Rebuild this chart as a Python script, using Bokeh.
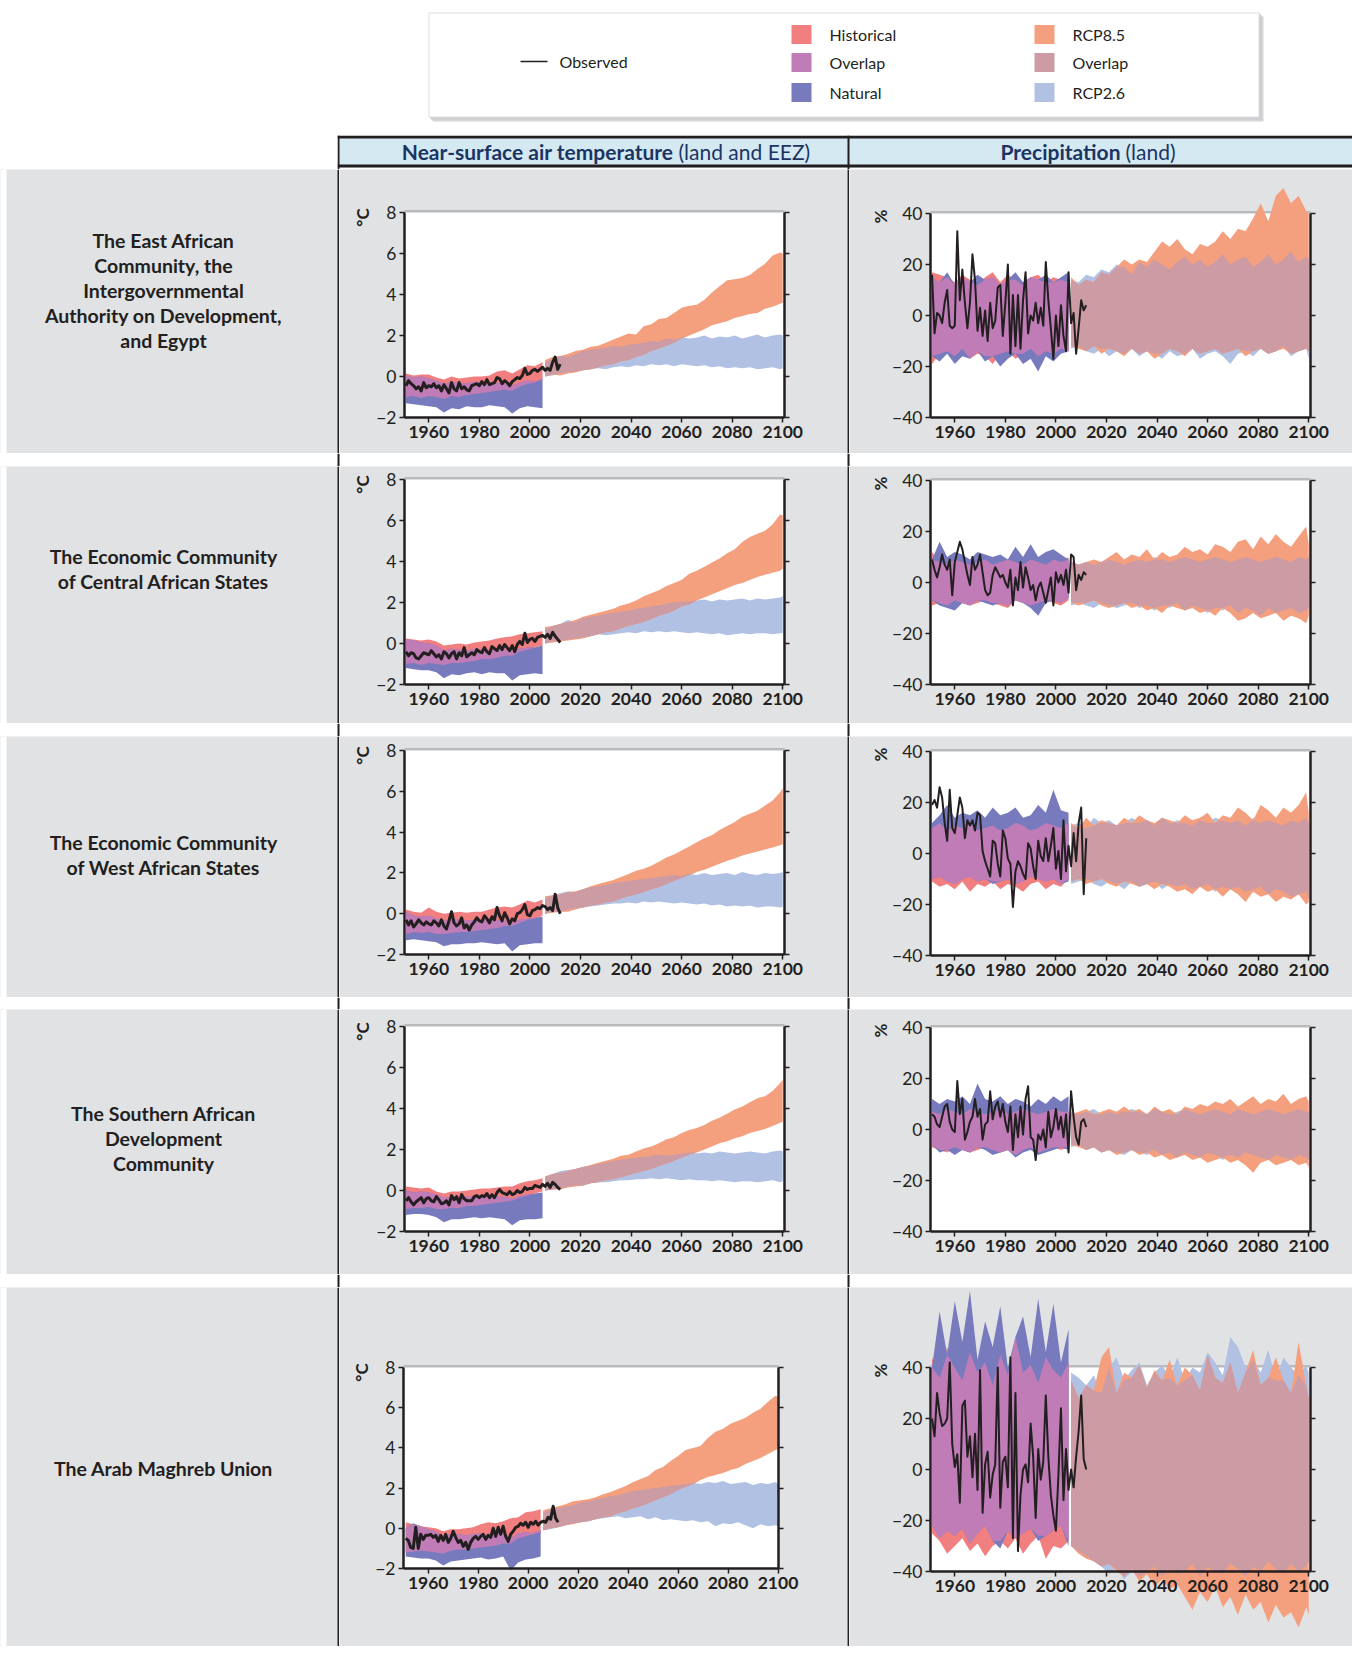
import numpy as np
from bokeh.plotting import figure
from bokeh.layouts import column, row
from bokeh.models import Range1d, LinearAxis, FixedTicker, Label, BoxAnnotation, Spacer
from bokeh.embed import file_html
from bokeh.resources import INLINE

# ---------------------------------------------------------------- data
OBS_YEARS = list(range(1951, 2013))
HIST_YEARS = [1951, 1954, 1957, 1960, 1963, 1966, 1969, 1972, 1975, 1978, 1981, 1984, 1987,
              1990, 1993, 1996, 1999, 2002, 2005]
RCP_YEARS = [2006, 2009, 2012, 2015, 2018, 2021, 2024, 2027, 2030, 2033, 2036, 2039, 2042,
             2045, 2048, 2051, 2054, 2057, 2060, 2063, 2066, 2069, 2072, 2075, 2078, 2081,
             2084, 2087, 2090, 2093, 2096, 2099, 2100]
X_TICKS = [1960, 1980, 2000, 2020, 2040, 2060, 2080, 2100]
T_TICKS = [-2, 0, 2, 4, 6, 8]
P_TICKS = [-40, -20, 0, 20, 40]

REGION_LABELS = [
    ["The East African", "Community, the", "Intergovernmental", "Authority on Development,", "and Egypt"],
    ["The Economic Community", "of Central African States"],
    ["The Economic Community", "of West African States"],
    ["The Southern African", "Development", "Community"],
    ["The Arab Maghreb Union"],
]
LEGEND_LEFT = ["Historical", "Overlap", "Natural"]
LEGEND_RIGHT = ["RCP8.5", "Overlap", "RCP2.6"]

# --- Row 1: East Africa, temperature (deg C)
T1_HIST_HI = [0.15, 0.05, 0.1, 0.1, -0.05, -0.15, 0.0, -0.1, -0.05, 0.0, 0.0, 0.05, 0.25, 0.3, 0.15, 0.35, 0.55, 0.5, 0.7]
T1_HIST_LO = [-1.0, -0.95, -1.05, -0.95, -1.0, -1.1, -0.95, -1.0, -0.9, -0.85, -0.8, -0.75, -0.7, -0.65, -0.7, -0.5, -0.35, -0.3, -0.15]
T1_NAT_HI = [0.05, -0.05, 0.0, -0.1, -0.2, -0.35, -0.25, -0.3, -0.35, -0.25, -0.3, -0.4, -0.3, -0.35, -0.45, -0.3, -0.2, -0.25, -0.1]
T1_NAT_LO = [-1.3, -1.35, -1.4, -1.45, -1.5, -1.75, -1.55, -1.6, -1.45, -1.5, -1.5, -1.4, -1.45, -1.5, -1.8, -1.55, -1.45, -1.5, -1.55]
T1_R85_HI = [0.8, 0.95, 1.0, 1.1, 1.25, 1.3, 1.45, 1.5, 1.65, 1.8, 1.95, 2.1, 2.05, 2.45, 2.55, 2.8, 2.85,
             3.1, 3.35, 3.45, 3.5, 3.75, 4.1, 4.4, 4.7, 4.75, 4.8, 4.95, 5.25, 5.5, 5.9, 6.05, 6.0]
T1_R85_LO = [0.0, 0.1, 0.05, 0.15, 0.2, 0.3, 0.35, 0.45, 0.55, 0.6, 0.75, 0.8, 0.95, 1.05, 1.25, 1.35, 1.5,
             1.65, 1.85, 2.0, 2.15, 2.3, 2.5, 2.6, 2.7, 2.85, 2.95, 3.05, 3.1, 3.3, 3.4, 3.55, 3.6]
T1_R26_HI = [0.7, 0.85, 1.0, 0.95, 1.1, 1.25, 1.3, 1.35, 1.4, 1.5, 1.45, 1.55, 1.6, 1.65, 1.75, 1.7, 1.85,
             1.8, 1.9, 1.85, 1.9, 2.0, 1.85, 1.95, 1.9, 2.0, 1.85, 1.95, 2.05, 1.9, 2.0, 2.05, 2.0]
T1_R26_LO = [0.0, 0.05, 0.15, 0.2, 0.25, 0.3, 0.35, 0.4, 0.35, 0.45, 0.5, 0.45, 0.55, 0.5, 0.6, 0.55, 0.6,
             0.5, 0.6, 0.55, 0.5, 0.55, 0.45, 0.5, 0.4, 0.45, 0.4, 0.45, 0.35, 0.4, 0.45, 0.35, 0.4]
T1_OBS = [-0.45, -0.2, -0.35, -0.45, -0.6, -0.5, -0.7, -0.3, -0.55, -0.45,
          -0.5, -0.35, -0.55, -0.45, -0.7, -0.4, -0.6, -0.8, -0.3, -0.6,
          -0.7, -0.3, -0.6, -0.5, -0.65, -0.7, -0.45, -0.4, -0.35, -0.45,
          -0.25, -0.4, -0.15, -0.4, -0.35, -0.3, -0.05, -0.1, -0.35, -0.2,
          -0.3, -0.45, -0.25, -0.15, -0.05, -0.1, 0.05, 0.4, 0.1, 0.15,
          0.3, 0.35, 0.25, 0.35, 0.45, 0.3, 0.4, 0.3, 0.7, 0.95,
          0.35, 0.6]

# --- Row 2: Central Africa, temperature
T2_HIST_HI = [0.25, 0.2, 0.15, 0.2, 0.1, -0.1, -0.05, 0.0, -0.05, 0.05, 0.1, 0.15, 0.25, 0.3, 0.35, 0.45, 0.5, 0.55, 0.6]
T2_HIST_LO = [-1.0, -0.95, -1.05, -0.95, -1.0, -1.05, -0.95, -0.95, -0.9, -0.85, -0.75, -0.75, -0.7, -0.6, -0.6, -0.4, -0.3, -0.2, -0.1]
T2_NAT_HI = [0.2, 0.15, 0.05, 0.0, -0.1, -0.35, -0.25, -0.3, -0.35, -0.25, -0.3, -0.35, -0.25, -0.3, -0.4, -0.25, -0.2, -0.2, -0.1]
T2_NAT_LO = [-1.2, -1.25, -1.3, -1.3, -1.4, -1.7, -1.5, -1.55, -1.45, -1.4, -1.5, -1.4, -1.45, -1.45, -1.8, -1.55, -1.5, -1.45, -1.5]
T2_R85_HI = [0.8, 0.85, 0.95, 1.05, 1.15, 1.3, 1.4, 1.5, 1.6, 1.7, 1.85, 1.95, 2.1, 2.3, 2.45, 2.6, 2.8,
             2.95, 3.1, 3.4, 3.55, 3.75, 3.95, 4.15, 4.4, 4.6, 4.95, 5.2, 5.35, 5.5, 5.8, 6.3, 6.25]
T2_R85_LO = [0.0, 0.05, 0.1, 0.15, 0.2, 0.25, 0.35, 0.45, 0.55, 0.6, 0.75, 0.85, 0.95, 1.05, 1.2, 1.35, 1.45,
             1.6, 1.8, 1.9, 2.1, 2.25, 2.4, 2.55, 2.7, 2.85, 2.95, 3.1, 3.25, 3.35, 3.45, 3.55, 3.65]
T2_R26_HI = [0.7, 0.85, 0.95, 1.15, 1.05, 1.25, 1.3, 1.35, 1.45, 1.5, 1.55, 1.6, 1.7, 1.75, 1.8, 1.85, 1.95,
             2.0, 2.05, 2.05, 2.1, 2.15, 2.05, 2.15, 2.1, 2.15, 2.2, 2.1, 2.2, 2.15, 2.2, 2.25, 2.3]
T2_R26_LO = [0.0, 0.1, 0.15, 0.2, 0.25, 0.3, 0.35, 0.45, 0.4, 0.45, 0.5, 0.55, 0.5, 0.6, 0.55, 0.6, 0.55,
             0.6, 0.55, 0.5, 0.55, 0.5, 0.45, 0.5, 0.4, 0.45, 0.5, 0.45, 0.5, 0.5, 0.45, 0.5, 0.5]
T2_OBS = [-0.4, -0.6, -0.45, -0.5, -0.7, -0.75, -0.6, -0.45, -0.5, -0.55,
          -0.35, -0.5, -0.65, -0.55, -0.75, -0.4, -0.5, -0.7, -0.5, -0.4,
          -0.75, -0.45, -0.6, -0.2, -0.65, -0.55, -0.45, -0.55, -0.3, -0.4,
          -0.45, -0.2, -0.4, -0.5, -0.15, -0.25, -0.35, -0.1, -0.3, -0.05,
          -0.2, -0.35, -0.1, -0.4, -0.05, 0.1, -0.05, 0.5, 0.05, 0.2,
          0.25, 0.1, 0.3, 0.35, 0.4, 0.3, 0.45, 0.25, 0.55, 0.35,
          0.2, 0.05]

# --- Row 3: West Africa, temperature
T3_HIST_HI = [0.2, 0.1, 0.05, 0.3, 0.1, 0.0, 0.05, 0.1, 0.05, 0.1, 0.1, 0.2, 0.3, 0.35, 0.3, 0.45, 0.65, 0.55, 0.7]
T3_HIST_LO = [-1.0, -0.9, -0.95, -0.9, -1.0, -1.0, -0.95, -0.9, -0.9, -0.85, -0.8, -0.75, -0.7, -0.6, -0.6, -0.45, -0.3, -0.25, -0.1]
T3_NAT_HI = [0.1, -0.1, -0.15, -0.1, -0.25, -0.35, -0.3, -0.3, -0.35, -0.3, -0.3, -0.35, -0.3, -0.35, -0.45, -0.3, -0.25, -0.2, -0.15]
T3_NAT_LO = [-1.3, -1.25, -1.3, -1.35, -1.4, -1.6, -1.5, -1.5, -1.45, -1.45, -1.4, -1.45, -1.5, -1.45, -1.85, -1.55, -1.5, -1.45, -1.45]
T3_R85_HI = [0.85, 0.9, 0.95, 1.05, 1.1, 1.2, 1.35, 1.45, 1.55, 1.65, 1.8, 1.95, 2.1, 2.2, 2.35, 2.55, 2.75,
             2.9, 3.1, 3.3, 3.5, 3.7, 3.85, 4.1, 4.3, 4.5, 4.75, 4.9, 5.05, 5.3, 5.55, 5.95, 6.15]
T3_R85_LO = [0.0, 0.05, 0.1, 0.1, 0.2, 0.3, 0.4, 0.45, 0.55, 0.6, 0.75, 0.85, 0.95, 1.05, 1.2, 1.3, 1.45,
             1.6, 1.75, 1.9, 2.05, 2.15, 2.3, 2.45, 2.6, 2.7, 2.85, 2.95, 3.05, 3.15, 3.25, 3.35, 3.4]
T3_R26_HI = [0.75, 0.9, 1.0, 1.1, 1.05, 1.2, 1.3, 1.35, 1.4, 1.5, 1.55, 1.6, 1.65, 1.7, 1.75, 1.8, 1.85,
             1.9, 1.85, 1.95, 1.9, 2.0, 1.9, 1.95, 2.0, 1.9, 2.05, 1.95, 1.9, 2.0, 1.95, 2.0, 2.05]
T3_R26_LO = [0.0, 0.1, 0.1, 0.2, 0.25, 0.3, 0.35, 0.4, 0.45, 0.5, 0.5, 0.55, 0.5, 0.6, 0.55, 0.6, 0.55,
             0.5, 0.55, 0.5, 0.45, 0.5, 0.4, 0.45, 0.35, 0.4, 0.35, 0.4, 0.3, 0.35, 0.35, 0.3, 0.35]
T3_OBS = [-0.3, -0.55, -0.35, -0.65, -0.5, -0.3, -0.45, -0.55, -0.4, -0.5,
          -0.55, -0.35, -0.45, -0.6, -0.3, -0.6, -0.75, -0.35, 0.1, -0.45,
          -0.6, -0.5, -0.2, -0.7, -0.55, -0.8, -0.55, -0.4, -0.2, -0.35,
          -0.4, -0.1, -0.25, -0.45, -0.15, -0.3, 0.3, -0.1, -0.35, 0.05,
          -0.2, -0.5, -0.25, -0.35, 0.0, 0.05, 0.2, 0.45, -0.05, -0.1,
          0.15, 0.2, 0.3, 0.25, 0.4, 0.35, 0.2, 0.3, 0.15, 0.95,
          0.3, 0.0]

# --- Row 4: Southern Africa, temperature
T4_HIST_HI = [0.2, 0.15, 0.1, 0.15, -0.05, -0.15, -0.05, -0.05, 0.0, 0.05, 0.1, 0.1, 0.15, 0.2, 0.2, 0.35, 0.45, 0.5, 0.6]
T4_HIST_LO = [-0.9, -0.85, -0.85, -0.8, -0.9, -0.9, -0.85, -0.85, -0.75, -0.75, -0.7, -0.65, -0.6, -0.55, -0.5, -0.35, -0.25, -0.15, -0.05]
T4_NAT_HI = [0.0, -0.1, -0.05, -0.1, -0.2, -0.35, -0.3, -0.3, -0.3, -0.3, -0.25, -0.35, -0.3, -0.3, -0.4, -0.25, -0.2, -0.15, -0.1]
T4_NAT_LO = [-1.2, -1.15, -1.15, -1.2, -1.3, -1.55, -1.4, -1.4, -1.35, -1.3, -1.35, -1.3, -1.35, -1.4, -1.7, -1.45, -1.4, -1.4, -1.35]
T4_R85_HI = [0.7, 0.8, 0.85, 0.95, 1.05, 1.15, 1.25, 1.35, 1.45, 1.55, 1.7, 1.75, 1.9, 2.05, 2.15, 2.3, 2.5,
             2.6, 2.8, 2.95, 3.05, 3.2, 3.4, 3.55, 3.75, 3.95, 4.1, 4.3, 4.5, 4.6, 4.85, 5.25, 5.4]
T4_R85_LO = [0.0, 0.05, 0.05, 0.15, 0.2, 0.25, 0.35, 0.4, 0.5, 0.55, 0.65, 0.75, 0.85, 0.95, 1.05, 1.2, 1.3,
             1.45, 1.6, 1.75, 1.85, 2.0, 2.15, 2.3, 2.4, 2.55, 2.65, 2.8, 2.9, 3.0, 3.15, 3.3, 3.35]
T4_R26_HI = [0.65, 0.8, 0.95, 1.0, 1.05, 1.15, 1.2, 1.3, 1.35, 1.45, 1.5, 1.55, 1.6, 1.65, 1.7, 1.75, 1.7,
             1.75, 1.8, 1.85, 1.8, 1.85, 1.8, 1.9, 1.85, 1.8, 1.85, 1.9, 1.85, 1.8, 1.9, 1.95, 1.9]
T4_R26_LO = [0.0, 0.05, 0.1, 0.2, 0.25, 0.25, 0.35, 0.4, 0.4, 0.45, 0.5, 0.5, 0.55, 0.55, 0.6, 0.55, 0.6,
             0.55, 0.5, 0.55, 0.5, 0.5, 0.45, 0.5, 0.45, 0.4, 0.45, 0.45, 0.4, 0.45, 0.5, 0.4, 0.45]
T4_OBS = [-0.5, -0.35, -0.55, -0.7, -0.55, -0.45, -0.35, -0.6, -0.4, -0.35,
          -0.5, -0.55, -0.3, -0.45, -0.65, -0.6, -0.5, -0.7, -0.25, -0.45,
          -0.3, -0.6, -0.2, -0.4, -0.5, -0.5, -0.5, -0.3, -0.25, -0.35,
          -0.25, -0.3, -0.15, -0.35, -0.2, -0.35, -0.1, 0.05, -0.1, -0.15,
          -0.2, -0.05, -0.2, -0.15, 0.0, -0.1, -0.05, 0.15, 0.05, 0.1,
          0.1, 0.25, 0.2, 0.15, 0.3, 0.2, 0.35, 0.15, 0.4, 0.3,
          0.15, 0.05]

# --- Row 5: Arab Maghreb Union, temperature
T5_HIST_HI = [0.3, 0.2, 0.1, 0.05, 0.0, -0.15, -0.05, -0.05, 0.0, 0.05, 0.2, 0.3, 0.25, 0.35, 0.5, 0.55, 0.8, 0.85, 0.95]
T5_HIST_LO = [-1.2, -1.15, -1.1, -1.15, -1.2, -1.25, -1.1, -1.05, -1.05, -1.0, -0.95, -0.9, -0.85, -0.75, -0.75, -0.5, -0.4, -0.3, -0.2]
T5_NAT_HI = [0.0, 0.25, 0.1, -0.05, -0.15, -0.4, -0.3, -0.3, -0.35, -0.3, -0.25, -0.35, -0.3, -0.2, -0.5, -0.25, -0.2, -0.25, -0.1]
T5_NAT_LO = [-1.4, -1.45, -1.5, -1.5, -1.6, -1.85, -1.65, -1.6, -1.55, -1.5, -1.45, -1.55, -1.5, -1.4, -2.1, -1.7, -1.55, -1.5, -1.4]
T5_R85_HI = [0.9, 1.0, 1.1, 1.2, 1.35, 1.4, 1.45, 1.55, 1.7, 1.8, 1.95, 2.1, 2.3, 2.45, 2.6, 2.9, 3.05,
             3.35, 3.6, 3.9, 4.0, 4.1, 4.5, 4.8, 4.95, 5.2, 5.35, 5.5, 5.75, 5.95, 6.3, 6.6, 6.55]
T5_R85_LO = [-0.1, 0.0, 0.05, 0.15, 0.2, 0.3, 0.35, 0.45, 0.55, 0.6, 0.75, 0.85, 1.0, 1.1, 1.25, 1.4, 1.55,
             1.7, 1.9, 2.05, 2.2, 2.4, 2.55, 2.65, 2.75, 2.9, 3.0, 3.2, 3.35, 3.5, 3.7, 3.9, 3.95]
T5_R26_HI = [0.8, 0.95, 1.0, 1.1, 1.15, 1.3, 1.35, 1.45, 1.5, 1.6, 1.65, 1.75, 1.85, 1.9, 1.95, 2.0, 2.05,
             2.1, 2.15, 2.2, 2.25, 2.2, 2.3, 2.25, 2.35, 2.2, 2.25, 2.3, 2.15, 2.25, 2.2, 2.3, 2.2]
T5_R26_LO = [-0.1, -0.05, 0.05, 0.15, 0.25, 0.3, 0.35, 0.45, 0.5, 0.55, 0.6, 0.5, 0.55, 0.6, 0.45, 0.55, 0.4,
             0.45, 0.4, 0.35, 0.4, 0.3, 0.35, 0.1, 0.25, 0.2, 0.3, 0.15, 0.0, 0.2, 0.1, 0.15, 0.1]
T5_OBS = [-0.5, -0.6, -0.95, -1.0, 0.05, -1.0, -0.3, -0.55, -0.35, -0.35,
          -0.3, -0.45, -0.35, -0.65, -0.35, -0.6, -0.3, -0.7, -0.5, -0.15,
          -0.45, -0.7, -0.6, -0.9, -0.7, -1.05, -0.7, -0.5, -0.4, -0.55,
          -0.4, -0.3, -0.55, -0.35, -0.45, 0.0, -0.4, 0.05, -0.3, 0.1,
          -0.4, -0.65, -0.3, -0.15, 0.05, 0.1, 0.25, 0.15, 0.3, 0.05,
          0.3, 0.2, 0.35, 0.15, 0.3, 0.35, 0.3, 0.55, 0.45, 1.1,
          0.5, 0.3]

# --- Row 1: East Africa, precipitation (%)
P1_HIST_HI = [17, 16, 15, 13, 16, 14, 12, 15, 17, 13, 16, 14, 12, 15, 16, 13, 15, 14, 13]
P1_HIST_LO = [-19, -15, -14, -16, -13, -17, -15, -16, -19, -15, -14, -17, -15, -13, -16, -14, -15, -13, -14]
P1_NAT_HI = [15, 13, 17, 12, 15, 13, 16, 14, 15, 12, 14, 17, 13, 15, 14, 16, 13, 15, 17]
P1_NAT_LO = [-16, -18, -15, -19, -16, -17, -14, -18, -16, -20, -17, -15, -19, -17, -22, -16, -18, -15, -14]
P1_R85_HI = [15, 12, 14, 13, 17, 16, 19, 22, 20, 22, 21, 25, 29, 27, 30, 26, 24, 28, 27, 29,
             33, 30, 34, 33, 38, 44, 37, 47, 50, 44, 47, 41, 40]
P1_R85_LO = [-12, -13, -14, -12, -15, -13, -14, -16, -13, -15, -14, -17, -15, -13, -14, -16, -13,
             -15, -14, -13, -15, -14, -13, -16, -14, -13, -15, -14, -13, -15, -14, -13, -14]
P1_R26_HI = [14, 13, 16, 15, 18, 17, 20, 19, 16, 21, 19, 22, 20, 18, 21, 23, 20, 22, 19, 21,
             24, 20, 22, 23, 19, 21, 24, 20, 22, 25, 21, 23, 22]
P1_R26_LO = [-13, -12, -14, -15, -13, -16, -14, -15, -13, -16, -14, -15, -17, -14, -16, -15, -13,
             -17, -15, -14, -16, -19, -15, -14, -16, -13, -15, -14, -12, -16, -14, -13, -17]
P1_OBS = [16, -7, 1, 0, -3, 5, 10, -4, -5, -4,
          33, 6, 18, 5, -5, 5, 24, 14, -6, 3,
          -8, 2, -10, 5, -5, -2, 11, 12, -8, 5,
          20, -15, 8, -12, 8, -13, 6, 17, -7, 0,
          -2, 5, -3, 3, -4, 21, 6, -5, -17, 0,
          -12, 4, -8, -14, 17, -3, 1, -15, -5, 6,
          2, 4]

# --- Row 2: Central Africa, precipitation
P2_HIST_HI = [12, 8, 7, 9, 8, 7, 8, 9, 7, 8, 9, 8, 7, 9, 8, 7, 9, 8, 10]
P2_HIST_LO = [-9, -8, -9, -7, -8, -9, -8, -7, -8, -9, -10, -7, -8, -9, -8, -7, -8, -9, -7]
P2_NAT_HI = [9, 16, 10, 12, 11, 9, 12, 11, 10, 11, 9, 14, 10, 15, 10, 12, 13, 11, 9]
P2_NAT_LO = [-7, -9, -10, -11, -8, -9, -7, -8, -9, -8, -9, -7, -8, -10, -13, -8, -7, -8, -6]
P2_R85_HI = [8, 7, 8, 9, 8, 10, 12, 9, 11, 10, 13, 9, 12, 10, 11, 14, 12, 13, 11, 15,
             14, 12, 16, 17, 13, 18, 15, 19, 16, 14, 18, 22, 15]
P2_R85_LO = [-8, -9, -8, -7, -9, -10, -9, -8, -10, -9, -11, -10, -12, -9, -10, -11, -10, -12,
             -11, -13, -10, -12, -15, -14, -12, -14, -13, -12, -15, -13, -14, -16, -13]
P2_R26_HI = [8, 7, 8, 7, 8, 9, 8, 7, 8, 9, 8, 10, 9, 8, 9, 10, 9, 8, 9, 10,
             9, 8, 9, 10, 9, 8, 9, 10, 9, 8, 10, 9, 10]
P2_R26_LO = [-9, -8, -9, -10, -8, -9, -10, -9, -8, -10, -9, -11, -9, -10, -8, -11, -9, -10,
             -12, -10, -11, -9, -12, -10, -11, -13, -10, -12, -11, -10, -12, -11, -10]
P2_OBS = [9, 5, 2, 6, 11, 7, 5, 9, -5, 8,
          12, 16, 13, 8, 3, -1, 10, 5, 7, 11,
          4, -3, -5, -4, 3, 6, 4, 2, 3, 0,
          -2, 5, -9, 2, -3, 8, -2, 6, 2, -3,
          -1, -7, -2, 0, -4, -8, -3, 2, -9, 4,
          0, 3, -1, 5, -4, 11, 10, -3, 3, 1,
          4, 3]

# --- Row 3: West Africa, precipitation
P3_HIST_HI = [10, 12, 9, 11, 10, 12, 9, 10, 11, 9, 10, 12, 11, 9, 10, 12, 11, 10, 12]
P3_HIST_LO = [-11, -13, -12, -14, -11, -15, -12, -13, -11, -14, -12, -13, -15, -12, -11, -14, -12, -13, -10]
P3_NAT_HI = [12, 15, 19, 14, 16, 15, 17, 14, 18, 15, 16, 18, 14, 15, 19, 16, 25, 17, 16]
P3_NAT_LO = [-10, -9, -11, -12, -10, -9, -11, -10, -12, -11, -10, -12, -11, -9, -10, -11, -10, -12, -11]
P3_R85_HI = [12, 10, 14, 11, 13, 12, 11, 14, 12, 15, 13, 12, 14, 13, 12, 15, 13, 14, 16, 12,
             15, 14, 18, 16, 13, 19, 17, 14, 18, 16, 19, 24, 16]
P3_R85_LO = [-11, -10, -12, -11, -10, -12, -13, -11, -12, -13, -12, -14, -12, -13, -15, -14, -16,
             -13, -15, -14, -17, -14, -16, -19, -15, -17, -16, -19, -17, -18, -16, -20, -19]
P3_R26_HI = [11, 12, 10, 14, 12, 13, 11, 12, 14, 12, 13, 11, 14, 12, 13, 12, 11, 13, 12, 14,
             13, 12, 13, 11, 14, 12, 13, 12, 11, 13, 12, 14, 12]
P3_R26_LO = [-12, -11, -10, -12, -13, -11, -12, -14, -11, -13, -12, -11, -14, -12, -13, -12, -14,
             -13, -12, -15, -13, -14, -13, -15, -14, -13, -16, -14, -15, -17, -16, -15, -18]
P3_OBS = [19, 21, 18, 26, 22, 12, 5, 25, 10, 8,
          15, 22, 18, 6, 13, 11, 13, 9, 16, 15,
          1, -3, -6, -9, 5, 4, -4, -9, 9, 6,
          -2, -4, -21, -7, -3, -5, -8, -10, 4, 2,
          -5, -10, 5, -1, -3, 6, -3, 3, 10, -6,
          1, -10, 13, -7, 3, -5, 8, -3, 12, 18,
          -16, 6]

# --- Row 4: Southern Africa, precipitation
P4_HIST_HI = [7, 6, 8, 7, 6, 8, 7, 6, 7, 8, 6, 7, 8, 7, 6, 7, 8, 7, 7]
P4_HIST_LO = [-7, -8, -9, -7, -8, -9, -8, -7, -8, -9, -8, -10, -8, -7, -9, -8, -7, -8, -7]
P4_NAT_HI = [12, 10, 12, 11, 13, 10, 18, 12, 11, 13, 10, 12, 11, 9, 12, 10, 13, 11, 13]
P4_NAT_LO = [-6, -9, -8, -10, -8, -9, -7, -8, -10, -9, -8, -11, -9, -8, -10, -9, -8, -7, -8]
P4_R85_HI = [6, 7, 8, 6, 7, 8, 7, 9, 7, 8, 6, 9, 7, 8, 6, 9, 8, 10, 9, 11,
             10, 12, 9, 11, 13, 10, 12, 11, 14, 10, 12, 13, 11]
P4_R85_LO = [-6, -7, -8, -7, -9, -8, -10, -9, -8, -10, -9, -11, -10, -12, -11, -10, -12, -11,
             -13, -12, -11, -13, -12, -14, -17, -13, -12, -14, -13, -12, -14, -13, -15]
P4_R26_HI = [7, 6, 7, 8, 6, 7, 6, 7, 8, 7, 6, 8, 7, 6, 7, 8, 7, 6, 7, 8,
             7, 6, 8, 7, 6, 7, 8, 7, 6, 7, 8, 7, 7]
P4_R26_LO = [-7, -6, -8, -7, -9, -8, -9, -10, -8, -9, -10, -8, -10, -9, -11, -9, -10, -11, -9,
             -10, -12, -10, -11, -9, -10, -11, -12, -10, -11, -12, -10, -11, -12]
P4_OBS = [6, 5, 2, 1, 5, 9, 10, 3, 0, -1,
          19, 6, 12, -4, -1, 3, 5, 12, 5, 8,
          -4, 2, 3, 15, 4, 9, 11, 5, 10, 3,
          -1, 9, -8, 6, -3, 9, -2, 12, 17, -3,
          -4, -12, -2, -4, 0, -7, 7, -3, 1, 8,
          0, 5, -3, 6, -9, 15, 5, -3, -6, 3,
          4, 1]

# --- Row 5: Arab Maghreb Union, precipitation
P5_HIST_HI = [44, 36, 48, 40, 35, 46, 38, 42, 33, 45, 37, 52, 38, 41, 34, 44, 39, 36, 42]
P5_HIST_LO = [-25, -28, -33, -30, -27, -32, -29, -34, -30, -28, -31, -27, -33, -29, -26, -35, -30, -31, -28]
P5_NAT_HI = [40, 62, 45, 66, 50, 70, 43, 58, 48, 64, 40, 52, 60, 44, 67, 46, 65, 42, 55]
P5_NAT_LO = [-22, -27, -24, -26, -23, -29, -25, -22, -28, -31, -24, -27, -25, -23, -28, -26, -24, -22, -30]
P5_R85_HI = [35, 28, 33, 31, 44, 48, 30, 38, 36, 41, 32, 39, 35, 43, 33, 40, 37, 31, 45, 36,
             34, 42, 30, 38, 47, 33, 36, 44, 35, 30, 50, 33, 28]
P5_R85_LO = [-30, -33, -35, -36, -38, -37, -40, -42, -39, -44, -41, -46, -43, -47, -45, -50, -55,
             -48, -52, -46, -54, -50, -57, -49, -55, -52, -60, -53, -58, -56, -62, -54, -57]
P5_R26_HI = [38, 36, 33, 37, 30, 40, 44, 35, 39, 42, 33, 38, 41, 36, 44, 35, 40, 38, 46, 42,
             37, 52, 48, 40, 43, 38, 47, 35, 44, 40, 37, 41, 38]
P5_R26_LO = [-30, -32, -34, -36, -38, -41, -39, -43, -40, -42, -40, -38, -42, -39, -41, -40, -37,
             -42, -38, -40, -41, -37, -39, -42, -38, -40, -36, -39, -41, -37, -40, -38, -36]
P5_OBS = [20, 13, 30, 22, 17, 18, 20, 42, 10, 1,
          6, -13, 25, 27, 5, 13, -3, 14, -8, 39,
          -17, 2, 7, -11, -2, 2, 40, -15, 3, 5,
          -7, 44, -27, 30, -32, -10, 0, 2, -5, 18,
          5, -19, 8, -4, 3, 29, 5, -10, -18, -24,
          -2, 24, -12, 8, -8, 0, -7, 5, 15, 29,
          4, 0]

# ---------------------------------------------------------------- style
FONT = "Lato"
INK = "#231f20"
GREY = "#e1e2e4"
NAVY = "#1b3563"
HEAD_BG = "#d5e9f3"
C_HIST = "#f27f80"
C_OVH = "#bf7cb7"
C_NAT = "#777abd"
C_R85 = "#f4a07f"
C_OVR = "#cc9ba3"
C_R26 = "#b1c1e3"
TICK_PX = "17.5px"

TOTAL_W = 1352
LABEL_W, TEMP_W, VL_W, PREC_W = 339, 508, 2, 503


def plain_fig(w, h, bg):
    f = figure(width=w, height=h, x_range=Range1d(0, w), y_range=Range1d(0, h),
               toolbar_location=None, output_backend="svg", min_border=0,
               x_axis_location=None, y_axis_location=None,
               background_fill_color=bg, border_fill_color=bg, outline_line_color=None)
    f.grid.visible = False
    return f


def box(f, h, l, r, t, b, color, level="underlay"):
    # t/b measured from top of the figure (pixels)
    f.add_layout(BoxAnnotation(left=l, right=r, top=h - t, bottom=h - b, fill_color=color,
                               fill_alpha=1.0, line_color=None, level=level))


def label(f, h, x, y, s, size, style="normal", align="left", color=INK):
    f.add_layout(Label(x=x, y=h - y, text=s, text_font=FONT, text_font_size=f"{size}px",
                       text_font_style=style, text_align=align, text_baseline="middle",
                       text_color=color))


def overlap(a_hi, a_lo, b_hi, b_lo):
    lo = np.maximum(np.asarray(a_lo, float), np.asarray(b_lo, float))
    hi = np.minimum(np.asarray(a_hi, float), np.asarray(b_hi, float))
    return lo, np.maximum(hi, lo)


def style_axis(ax, bold):
    ax.axis_line_color = INK
    ax.axis_line_width = 2.5
    ax.major_tick_line_color = INK
    ax.major_tick_line_width = 1.5
    ax.major_tick_out = 5
    ax.major_tick_in = 0
    ax.minor_tick_line_color = None
    ax.major_label_text_font = FONT
    ax.major_label_text_font_size = TICK_PX
    ax.major_label_text_color = INK
    ax.major_label_text_font_style = "bold" if bold else "normal"
    ax.major_label_standoff = 3


def panel(w, h, ml, mr, bt, bb, xr, yr, yticks, unit, udx, udy,
          h_hi, h_lo, n_hi, n_lo, r85_hi, r85_lo, r26_hi, r26_lo, obs, obs_w):
    # the frame covers the whole figure; axes are placed at fixed data locations
    sy = (yr[1] - yr[0]) / (bb - bt)
    y0 = yr[0] - (h - bb) * sy
    y1 = yr[1] + bt * sy
    sx = (xr[1] - xr[0]) / (w - ml - mr)
    x0 = xr[0] - ml * sx
    x1 = xr[1] + mr * sx
    p = figure(width=w, height=h, x_range=Range1d(x0, x1), y_range=Range1d(y0, y1),
               min_border=0, toolbar_location=None, output_backend="svg",
               x_axis_location=None, y_axis_location=None,
               background_fill_color=GREY, border_fill_color=GREY, outline_line_color=None)
    p.grid.visible = False
    # plot area (white box with a light shadow on top)
    p.add_layout(BoxAnnotation(left=xr[0], right=xr[1], bottom=yr[0], top=yr[1] + 2.5 * sy,
                               fill_color="#b9babc", fill_alpha=1, line_color=None, level="underlay"))
    p.add_layout(BoxAnnotation(left=xr[0], right=xr[1], bottom=yr[0], top=yr[1],
                               fill_color="white", fill_alpha=1, line_color=None, level="underlay"))
    # historical / natural
    p.varea(x=HIST_YEARS, y1=h_lo, y2=h_hi, fill_color=C_HIST, fill_alpha=1)
    p.varea(x=HIST_YEARS, y1=n_lo, y2=n_hi, fill_color=C_NAT, fill_alpha=1)
    lo, hi = overlap(h_hi, h_lo, n_hi, n_lo)
    p.varea(x=HIST_YEARS, y1=lo, y2=hi, fill_color=C_OVH, fill_alpha=1)
    # RCP scenarios
    p.varea(x=RCP_YEARS, y1=r26_lo, y2=r26_hi, fill_color=C_R26, fill_alpha=1)
    p.varea(x=RCP_YEARS, y1=r85_lo, y2=r85_hi, fill_color=C_R85, fill_alpha=1)
    lo, hi = overlap(r85_hi, r85_lo, r26_hi, r26_lo)
    p.varea(x=RCP_YEARS, y1=lo, y2=hi, fill_color=C_OVR, fill_alpha=1)
    # observations
    p.line(x=OBS_YEARS, y=obs, line_color=INK, line_width=obs_w, line_join="round")
    # axes
    xa = LinearAxis(ticker=FixedTicker(ticks=X_TICKS), fixed_location=yr[0], bounds=xr)
    style_axis(xa, True)
    p.add_layout(xa, "below")
    neg = {t: "\u2212" + str(abs(t)) for t in yticks if t < 0}
    ya = LinearAxis(ticker=FixedTicker(ticks=yticks), fixed_location=xr[0], bounds=yr,
                    major_label_overrides=neg)
    style_axis(ya, False)
    p.add_layout(ya, "left")
    yb = LinearAxis(ticker=FixedTicker(ticks=yticks), fixed_location=xr[1], bounds=yr)
    style_axis(yb, False)
    yb.major_label_text_font_size = "1px"
    yb.major_label_text_color = None
    p.add_layout(yb, "right")
    p.add_layout(Label(x=xr[0], y=yr[1], x_offset=-udx, y_offset=-udy, text=unit,
                       angle=np.pi / 2, text_align="center", text_baseline="middle",
                       text_font=FONT, text_font_style="bold", text_font_size="17px",
                       text_color=INK))
    return p


# ---------------------------------------------------------------- top legend
TOP_H = 135
top = plain_fig(TOTAL_W, TOP_H, "white")
box(top, TOP_H, 432, 1263, 16, 121, "#d6d7d9")
box(top, TOP_H, 430, 1261, 14, 119, "#cbcccf")
box(top, TOP_H, 428, 1259, 12, 117, "#dcdddf")
box(top, TOP_H, 429, 1258, 13, 116, "white")
box(top, TOP_H, 520, 547, 60.3, 61.7, INK, level="annotation")
label(top, TOP_H, 559, 61, "Observed", 16)
LEG_Y = [34, 62, 92]
for i, (txt, col) in enumerate(zip(LEGEND_LEFT, [C_HIST, C_OVH, C_NAT])):
    cy = LEG_Y[i]
    box(top, TOP_H, 791, 811, cy - 9.5, cy + 9.5, col, level="annotation")
    label(top, TOP_H, 829, cy, txt, 16)
for i, (txt, col) in enumerate(zip(LEGEND_RIGHT, [C_R85, C_OVR, C_R26])):
    cy = LEG_Y[i]
    box(top, TOP_H, 1034, 1054, cy - 9.5, cy + 9.5, col, level="annotation")
    label(top, TOP_H, 1072, cy, txt, 16)

# ---------------------------------------------------------------- header
HDR_X = 337
HDR_W, HDR_H = TOTAL_W - HDR_X, 34
hdr = plain_fig(HDR_W, HDR_H, "white")
box(hdr, HDR_H, 0, HDR_W, 0, 32, HEAD_BG)
box(hdr, HDR_H, 0, HDR_W, 0, 3, INK)
box(hdr, HDR_H, 0, HDR_W, 29, 32, INK)
box(hdr, HDR_H, 0, 2, 0, HDR_H, INK)
box(hdr, HDR_H, 510, 512, 0, HDR_H, INK)
label(hdr, HDR_H, 336, 16, "Near-surface air temperature", 21, "bold", "right", NAVY)
label(hdr, HDR_H, 341, 16, "(land and EEZ)", 21, "normal", "left", NAVY)
label(hdr, HDR_H, 783, 16, "Precipitation", 21, "bold", "right", NAVY)
label(hdr, HDR_H, 788, 16, "(land)", 21, "normal", "left", NAVY)

# ---------------------------------------------------------------- rows
ROW_H = [284, 257, 261, 265, 359]
GAP_H = [13, 13, 12, 13]
LABEL_CY = [121, 102.5, 118.5, 129, 181]
T_BOX = [(43, 248), (13, 218), (14, 218), (17, 222), (80, 281)]
P_BOX = [(44, 248), (14, 218), (15, 219), (18, 222), (80, 284)]
T_GEOM = [(65, 63, (1950.4, 2100.7))] * 4 + [(64, 69, (1950.1, 2100.2))]

T_DATA = [
    (T1_HIST_HI, T1_HIST_LO, T1_NAT_HI, T1_NAT_LO, T1_R85_HI, T1_R85_LO, T1_R26_HI, T1_R26_LO, T1_OBS),
    (T2_HIST_HI, T2_HIST_LO, T2_NAT_HI, T2_NAT_LO, T2_R85_HI, T2_R85_LO, T2_R26_HI, T2_R26_LO, T2_OBS),
    (T3_HIST_HI, T3_HIST_LO, T3_NAT_HI, T3_NAT_LO, T3_R85_HI, T3_R85_LO, T3_R26_HI, T3_R26_LO, T3_OBS),
    (T4_HIST_HI, T4_HIST_LO, T4_NAT_HI, T4_NAT_LO, T4_R85_HI, T4_R85_LO, T4_R26_HI, T4_R26_LO, T4_OBS),
    (T5_HIST_HI, T5_HIST_LO, T5_NAT_HI, T5_NAT_LO, T5_R85_HI, T5_R85_LO, T5_R26_HI, T5_R26_LO, T5_OBS),
]
P_DATA = [
    (P1_HIST_HI, P1_HIST_LO, P1_NAT_HI, P1_NAT_LO, P1_R85_HI, P1_R85_LO, P1_R26_HI, P1_R26_LO, P1_OBS),
    (P2_HIST_HI, P2_HIST_LO, P2_NAT_HI, P2_NAT_LO, P2_R85_HI, P2_R85_LO, P2_R26_HI, P2_R26_LO, P2_OBS),
    (P3_HIST_HI, P3_HIST_LO, P3_NAT_HI, P3_NAT_LO, P3_R85_HI, P3_R85_LO, P3_R26_HI, P3_R26_LO, P3_OBS),
    (P4_HIST_HI, P4_HIST_LO, P4_NAT_HI, P4_NAT_LO, P4_R85_HI, P4_R85_LO, P4_R26_HI, P4_R26_LO, P4_OBS),
    (P5_HIST_HI, P5_HIST_LO, P5_NAT_HI, P5_NAT_LO, P5_R85_HI, P5_R85_LO, P5_R26_HI, P5_R26_LO, P5_OBS),
]

children = [top, row(Spacer(width=HDR_X, height=HDR_H), hdr)]
for i in range(5):
    h = ROW_H[i]
    lab = plain_fig(LABEL_W, h, GREY)
    box(lab, h, 0, 6, 0, h, "white")
    box(lab, h, 337, 339, 0, h, INK)
    lines = REGION_LABELS[i]
    n = len(lines)
    for k, ln in enumerate(lines):
        cy = LABEL_CY[i] + (k - (n - 1) / 2) * 25.2
        label(lab, h, 163, cy, ln, 19.5, "bold", "center")

    ml, mr, xr = T_GEOM[i]
    tp = panel(TEMP_W, h, ml, mr, T_BOX[i][0], T_BOX[i][1], xr, (-2, 8), T_TICKS, "\u00b0C", 42, 5,
               *T_DATA[i], 3)
    pp = panel(PREC_W, h, 81, 42, P_BOX[i][0], P_BOX[i][1], (1950.4, 2100.7), (-40, 40), P_TICKS,
               "%", 50, 3, *P_DATA[i], 2)
    children.append(row(lab, tp, plain_fig(VL_W, h, INK), pp))
    if i < 4:
        g = plain_fig(TOTAL_W, GAP_H[i], "white")
        box(g, GAP_H[i], 337, 339, 0, GAP_H[i], INK)
        box(g, GAP_H[i], 847, 849, 0, GAP_H[i], INK)
        children.append(g)

page = column(*children, spacing=0)
open("out.html", "w").write(file_html(page, INLINE, title="Africa regional climate projections"))
